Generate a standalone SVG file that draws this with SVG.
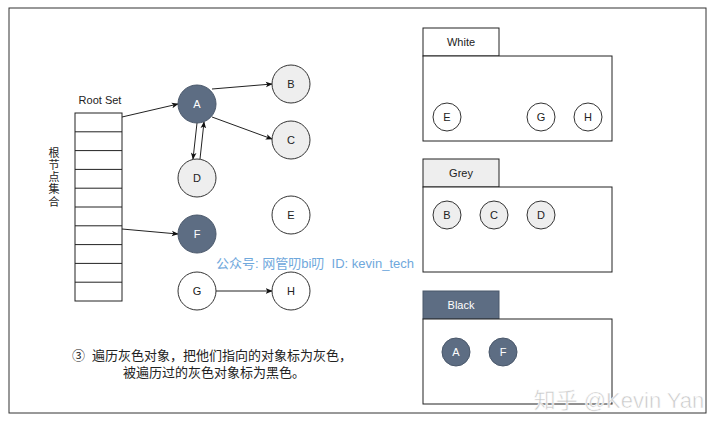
<svg xmlns="http://www.w3.org/2000/svg" width="720" height="430" viewBox="0 0 720 430">
<defs>
<style>
text{font-family:"Liberation Sans","Noto Sans CJK SC",sans-serif;}
.lbl{font-size:11px;text-anchor:middle;dominant-baseline:central;fill:#222;}
.wl{fill:#fff;}
.dark{fill:#5d6d83;stroke:#4a586b;stroke-width:1;}
.grey{fill:#eeeeee;stroke:#333;stroke-width:1;}
.white{fill:#fff;stroke:#333;stroke-width:1;}
.cell{fill:#fff;stroke:#222;stroke-width:1;}
.box{fill:#fff;stroke:#222;stroke-width:1;}
.edge{stroke:#222;stroke-width:1;fill:none;marker-end:url(#ah);}
.cn{font-size:11px;fill:#222;}
</style>
<marker id="ah" viewBox="0 0 10 10" refX="9" refY="5" markerWidth="7" markerHeight="7" orient="auto" markerUnits="userSpaceOnUse">
<path d="M0,1 L10,5 L0,9 L2.5,5 Z" fill="#111"/>
</marker>
</defs>
<rect width="720" height="430" fill="#fff"/>
<rect x="9" y="8" width="697" height="405" fill="none" stroke="#333" stroke-width="1"/>

<g id="rootset">
<text x="100" y="104" style="font-size:11px;text-anchor:middle;fill:#222;">Root Set</text>
<rect class="cell" x="75" y="113" width="47" height="188"/>
<path d="M75,131.8H122M75,150.6H122M75,169.4H122M75,188.2H122M75,207H122M75,225.8H122M75,244.6H122M75,263.4H122M75,282.2H122" stroke="#222" stroke-width="1"/>
<text class="cn" x="54" y="157" text-anchor="middle">根</text>
<text class="cn" x="54" y="169" text-anchor="middle">节</text>
<text class="cn" x="54" y="181" text-anchor="middle">点</text>
<text class="cn" x="54" y="193" text-anchor="middle">集</text>
<text class="cn" x="54" y="206" text-anchor="middle">合</text>
</g>

<g id="connectors">
<line class="edge" x1="122" y1="117" x2="178" y2="104"/>
<line class="edge" x1="212" y1="89" x2="272" y2="84"/>
<line class="edge" x1="212" y1="117" x2="272" y2="139"/>
<line class="edge" x1="197" y1="123" x2="193" y2="159"/>
<line class="edge" x1="200" y1="159" x2="204" y2="122"/>
<line class="edge" x1="122" y1="229" x2="178" y2="234"/>
<line class="edge" x1="216" y1="291" x2="272" y2="291"/>
</g>

<g id="A"><circle class="dark" cx="197" cy="104" r="19"/><text class="lbl wl" x="197" y="104">A</text></g>
<g id="B"><circle class="grey" cx="291" cy="84" r="19"/><text class="lbl" x="291" y="84">B</text></g>
<g id="C"><circle class="grey" cx="291" cy="140" r="19"/><text class="lbl" x="291" y="140">C</text></g>
<g id="D"><circle class="grey" cx="197" cy="178" r="19"/><text class="lbl" x="197" y="178">D</text></g>
<g id="E"><circle class="white" cx="291" cy="215" r="19"/><text class="lbl" x="291" y="215">E</text></g>
<g id="F"><circle class="dark" cx="197" cy="234" r="19"/><text class="lbl wl" x="197" y="234">F</text></g>
<g id="G"><circle class="white" cx="197" cy="291" r="19"/><text class="lbl" x="197" y="291">G</text></g>
<g id="H"><circle class="white" cx="291" cy="291" r="19"/><text class="lbl" x="291" y="291">H</text></g>

<text x="315" y="268" xml:space="preserve" style="font-size:13px;text-anchor:middle;fill:#6fa8dc;white-space:pre;">公众号: 网管叨bi叨  ID: kevin_tech</text>

<text x="212" y="360" xml:space="preserve" style="font-size:13px;text-anchor:middle;fill:#222;white-space:pre;">③  遍历灰色对象，把他们指向的对象标为灰色，</text>
<text x="214" y="377" style="font-size:13px;text-anchor:middle;fill:#222;">被遍历过的灰色对象标为黑色。</text>

<g id="white-set">
<rect class="box" x="423" y="28" width="76" height="28"/>
<text x="461" y="42" style="font-size:11px;text-anchor:middle;dominant-baseline:central;fill:#222;">White</text>
<rect class="box" x="423" y="56" width="189" height="85"/>
<circle class="white" cx="447" cy="117" r="14"/><text class="lbl" x="447" y="117">E</text>
<circle class="white" cx="541" cy="117" r="14"/><text class="lbl" x="541" y="117">G</text>
<circle class="white" cx="588" cy="117" r="14"/><text class="lbl" x="588" y="117">H</text>
</g>

<g id="grey-set">
<rect x="423" y="159" width="76" height="28" fill="#eeeeee" stroke="#222"/>
<text x="461" y="173" style="font-size:11px;text-anchor:middle;dominant-baseline:central;fill:#222;">Grey</text>
<rect class="box" x="423" y="187" width="189" height="85"/>
<circle class="grey" cx="447" cy="215" r="14"/><text class="lbl" x="447" y="215">B</text>
<circle class="grey" cx="494" cy="215" r="14"/><text class="lbl" x="494" y="215">C</text>
<circle class="grey" cx="541" cy="215" r="14"/><text class="lbl" x="541" y="215">D</text>
</g>

<g id="black-set">
<rect x="423" y="291" width="76" height="28" fill="#5d6d83" stroke="#4a586b"/>
<text x="461" y="305" style="font-size:11px;text-anchor:middle;dominant-baseline:central;fill:#fff;">Black</text>
<rect class="box" x="423" y="319" width="189" height="85"/>
<circle class="dark" cx="456" cy="352" r="14"/><text class="lbl wl" x="456" y="352">A</text>
<circle class="dark" cx="503" cy="352" r="14"/><text class="lbl wl" x="503" y="352">F</text>
</g>

<text x="619" y="408" style="font-size:22px;text-anchor:middle;fill:#c8c8c8;stroke:#fff;stroke-width:0.6;">知乎 @Kevin Yan</text>
</svg>
